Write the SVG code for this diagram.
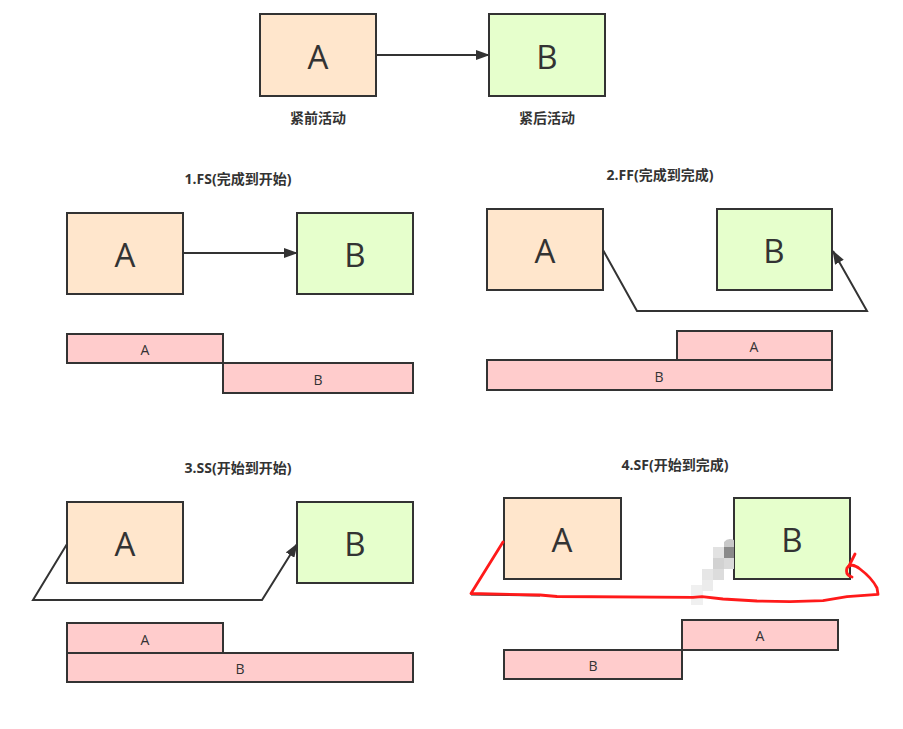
<svg xmlns="http://www.w3.org/2000/svg" width="903" height="729" viewBox="0 0 903 729">
<style>
.bg{fill:#ffffff}
.na{fill:#ffe6cc;stroke:#333333;stroke-width:2}
.nb{fill:#e6ffcc;stroke:#333333;stroke-width:2}
.bar{fill:#ffcccc;stroke:#333333;stroke-width:2}
.big{font-family:"Open Sans","Liberation Sans",sans-serif;font-size:33px;fill:#333333;text-anchor:middle}
.small{font-family:"Open Sans","Liberation Sans",sans-serif;font-size:14px;fill:#333333;text-anchor:middle}
.title{font-family:"Open Sans","Noto Sans CJK SC",sans-serif;font-size:14px;font-weight:bold;fill:#333333;text-anchor:middle}
.lbl{font-family:"Noto Sans CJK SC",sans-serif;font-size:14px;font-weight:bold;fill:#333333;text-anchor:middle}
.conn{fill:none;stroke:#333333;stroke-width:2}
.red{fill:none;stroke:#ff1a1a;stroke-width:2.8;stroke-linecap:round;stroke-linejoin:round}
</style>
<defs>
<marker id="arr" viewBox="0 0 14 10" refX="13" refY="5" markerWidth="14" markerHeight="10" markerUnits="userSpaceOnUse" orient="auto">
<path d="M0,0 L14,5 L0,10 Z" fill="#333333"/>
</marker>
</defs>
<rect class="bg" x="0" y="0" width="903" height="729"/>

<!-- top -->
<g id="top-A"><rect class="na" x="260" y="14" width="116" height="82"/><text class="big" x="318" y="69">A</text></g>
<g id="top-B"><rect class="nb" x="489" y="14" width="116" height="82"/><text class="big" x="547" y="69">B</text></g>
<text class="lbl" x="318" y="123">紧前活动</text>
<text class="lbl" x="547" y="123">紧后活动</text>

<!-- titles -->
<text class="title" x="238" y="184">1.FS(完成到开始)</text>
<text class="title" x="660" y="180">2.FF(完成到完成)</text>
<text class="title" x="238" y="473">3.SS(开始到开始)</text>
<text class="title" x="675" y="470">4.SF(开始到完成)</text>

<!-- section 1 -->
<g id="fs-A"><rect class="na" x="67" y="213" width="116" height="81"/><text class="big" x="125" y="267">A</text></g>
<g id="fs-B"><rect class="nb" x="297" y="213" width="116" height="81"/><text class="big" x="355" y="267">B</text></g>
<g id="fs-barA"><rect class="bar" x="67" y="334" width="156" height="29"/><text class="small" x="145" y="355">A</text></g>
<g id="fs-barB"><rect class="bar" x="223" y="363" width="190" height="30"/><text class="small" x="318" y="385">B</text></g>

<!-- section 2 -->
<g id="ff-A"><rect class="na" x="487" y="209" width="116" height="81"/><text class="big" x="545" y="263">A</text></g>
<g id="ff-B"><rect class="nb" x="717" y="209" width="115" height="81"/><text class="big" x="774" y="263">B</text></g>
<g id="ff-barA"><rect class="bar" x="677" y="331" width="155" height="29"/><text class="small" x="754" y="352">A</text></g>
<g id="ff-barB"><rect class="bar" x="487" y="360" width="345" height="30"/><text class="small" x="659" y="382">B</text></g>

<!-- section 3 -->
<g id="ss-A"><rect class="na" x="67" y="502" width="116" height="81"/><text class="big" x="125" y="556">A</text></g>
<g id="ss-B"><rect class="nb" x="297" y="502" width="116" height="81"/><text class="big" x="355" y="556">B</text></g>
<g id="ss-barA"><rect class="bar" x="67" y="623" width="156" height="30"/><text class="small" x="145" y="645">A</text></g>
<g id="ss-barB"><rect class="bar" x="67" y="653" width="346" height="29"/><text class="small" x="240" y="674">B</text></g>

<!-- section 4 -->
<g id="sf-A"><rect class="na" x="504" y="498" width="117" height="81"/><text class="big" x="562" y="552">A</text></g>
<g id="sf-B"><rect class="nb" x="734" y="498" width="116" height="81"/><text class="big" x="792" y="552">B</text></g>
<g id="sf-barA"><rect class="bar" x="682" y="620" width="156" height="30"/><text class="small" x="760" y="641">A</text></g>
<g id="sf-barB"><rect class="bar" x="504" y="650" width="178" height="29"/><text class="small" x="593" y="671">B</text></g>

<g id="connectors">
<path class="conn" d="M376,55 L489,55" marker-end="url(#arr)"/>
<path class="conn" d="M183,253 L297,253" marker-end="url(#arr)"/>
<path class="conn" d="M603,250 L637,311 L867,311 L833,251" marker-end="url(#arr)"/>
<path class="conn" d="M67,544 L33,600 L262,600 L297,544" marker-end="url(#arr)"/>
<path class="conn" d="M471,594.5 L540,595.5"/>
</g>

<!-- mosaic -->
<g id="mosaic">
<rect x="691" y="585" width="12" height="20" fill="#f0f0f0"/>
<rect x="702" y="569" width="11" height="11" fill="#e6e6e6"/>
<rect x="702" y="580" width="11" height="11" fill="#ececec"/>
<rect x="713" y="547" width="11" height="11" fill="#e2e2e2"/>
<rect x="713" y="558" width="11" height="11" fill="#d2d2d2"/>
<rect x="713" y="569" width="11" height="11" fill="#dcdcdc"/>
<rect x="724" y="558" width="10" height="11" fill="#dadada"/>
<path d="M724,547 L724,542 Q728,537 734,540 L734,547 Z" fill="#c8c8c8"/>
<rect x="724" y="547" width="10" height="11" fill="#8a8a8a"/>
</g>

<!-- red hand drawing -->
<path class="red" d="M503,542 L471,593.5 L540,595 L557,596.5 L693,597.3 L702,596.7 L723,599 L757,601 L790,601.7 L823,600.7 L847,596.7 L878,594.3 L877,588 Q872,578 860,569 Q851,562 847,568 Q845,575 852,577"/>
<path class="red" d="M849,566 L855,554"/>
</svg>
